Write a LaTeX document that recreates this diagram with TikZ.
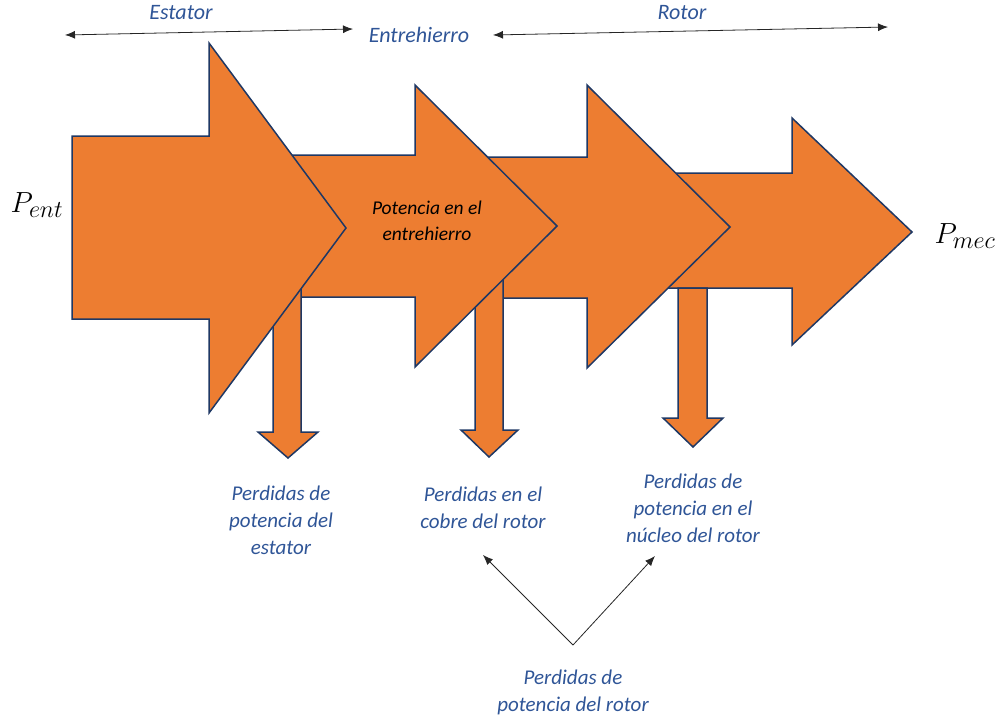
\documentclass[tikz,border=0pt]{standalone}
\usepackage{fontspec}
\setmainfont{Carlito}
\usetikzlibrary{arrows.meta}

\definecolor{naranja}{HTML}{ED7D31}
\definecolor{borde}{HTML}{1F3864}
\definecolor{azultxt}{HTML}{2F5597}

\begin{document}
\begin{tikzpicture}[x=1pt,y=-1pt,
  flecha/.style={fill=naranja,draw=borde,line width=1.5pt,line join=miter},
  etiq/.style={text=azultxt,font=\fontsize{21}{27}\selectfont\itshape,align=center,inner sep=0pt},
  cota/.style={draw=black!85,line width=0.8pt,{Latex[length=10pt,width=8pt]}-{Latex[length=10pt,width=8pt]}},
  guia/.style={draw=black!85,line width=0.8pt,-{Latex[length=10pt,width=8pt]}}]
\useasboundingbox (0,0) rectangle (1004,721);

% Define points
\coordinate (estI) at (65,35);
\coordinate (estD) at (353,29);
\coordinate (rotI) at (493,35);
\coordinate (rotD) at (888,27);
\coordinate (vert) at (573,645);
\coordinate (cobreF) at (483,555);
\coordinate (nucleoF) at (655,556);

% Draw arrows, back to front
\draw[flecha] (660,173) -- (792,173) -- (792,118) -- (912,232) -- (792,345) -- (792,288) -- (660,288) -- cycle;
\draw[flecha] (678,288) -- (678,418) -- (663,418) -- (693,447) -- (723,418) -- (707,418) -- (707,288) -- cycle; % nucleo
\draw[flecha] (480,157) -- (587,157) -- (587,85) -- (730,227) -- (587,368) -- (587,298) -- (480,298) -- cycle;
\draw[flecha] (475,200) -- (475,430) -- (461,430) -- (489,457) -- (518,430) -- (503,430) -- (503,200) -- cycle; % cobre
\draw[flecha] (280,155) -- (415,155) -- (415,85) -- (557,226) -- (415,367) -- (415,297) -- (280,297) -- cycle;
\draw[flecha] (273,200) -- (273,432) -- (258,432) -- (288,458) -- (318,432) -- (301,432) -- (301,200) -- cycle; % estator
\draw[flecha] (72,136) -- (209,136) -- (209,43) -- (346,228) -- (209,413) -- (209,319) -- (72,319) -- cycle;

% Regions
\draw[cota] (estI) -- (estD);
\draw[cota] (rotI) -- (rotD);
\node[etiq,font=\fontsize{22}{27}\selectfont\itshape] (estator) at (181,13) {Estator};
\node[etiq,font=\fontsize{22}{27}\selectfont\itshape] (entrehierro) at (419,35) {Entrehierro};
\node[etiq,font=\fontsize{22}{27}\selectfont\itshape] (rotor) at (682,13) {Rotor};

% Labels
\node[inner sep=0pt] (pent) at (37,205) {\scalebox{1.17}{\Huge$P_{ent}$}};
\node[inner sep=0pt] (pmec) at (965,236) {\scalebox{1.17}{\Huge$P_{mec}$}};
\node[etiq,text=black,font=\fontsize{19.5}{26}\selectfont\itshape] (potencia) at (427,221) {Potencia en el\\entrehierro};
\node[etiq] (perdEst) at (281,520) {Perdidas de\\potencia del\\estator};
\node[etiq] (perdCobre) at (483,508) {Perdidas en el\\cobre del rotor};
\node[etiq] (perdNucleo) at (693,508) {Perdidas de\\potencia en el\\núcleo del rotor};
\node[etiq] (perdRotor) at (573,692) {Perdidas de\\potencia del rotor};

\draw[guia] (vert) -- (cobreF);
\draw[guia] (vert) -- (nucleoF);

\end{tikzpicture}
\end{document}
